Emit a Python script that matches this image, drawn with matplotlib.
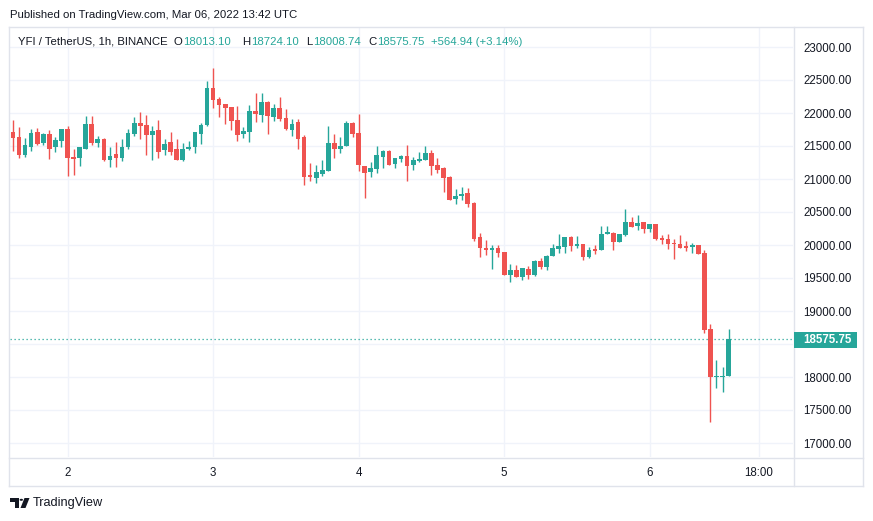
import matplotlib
matplotlib.use("Agg")
import matplotlib.pyplot as plt
from matplotlib.patches import Rectangle, Polygon, Circle
import numpy as np

# ---- data: 1h candles, hour offset relative to 2 Mar 2022 00:00 UTC ----
hours = list(range(-9, 110))
opens = [21709, 21632, 21360, 21483, 21709, 21539, 21678, 21478, 21575, 21755,
         21324, 21313, 21462, 21832, 21539, 21601, 21283, 21385, 21324, 21478,
         21678, 21848, 21817, 21663, 21740, 21432, 21555, 21447, 21293, 21447,
         21478, 21678, 21817, 22372, 22218, 22140, 22094, 21894, 21678, 21709,
         22033, 21971, 22171, 21940, 22079, 21925, 21740, 21863, 21632, 21062,
         21016, 21077, 21123, 21539, 21462, 21493, 21848, 21694, 21200, 21108,
         21153, 21336, 21422, 21230, 21306, 21346, 21214, 21275, 21290, 21392,
         21209, 21164, 21027, 20692, 20738, 20783, 20631, 20119, 19962, 19922,
         19962, 19901, 19541, 19617, 19510, 19641, 19540, 19762, 19661, 19828,
         19944, 19974, 20126, 19990, 20020, 19823, 19929, 19929, 20161, 20187,
         20050, 20156, 20353, 20283, 20353, 20247, 20323, 20111, 20096, 20035,
         20015, 19970, 19975, 20000, 19879, 18730, 17994, 17994, 18013.10]
highs = [21894, 21786, 21617, 21755, 21771, 21694, 21740, 21632, 21755, 21801,
         21447, 21478, 21956, 21956, 21647, 21617, 21478, 21555, 21601, 21755,
         21940, 22017, 21971, 21801, 21894, 21601, 21709, 21601, 21539, 21570,
         21709, 21848, 22480, 22680, 22248, 22140, 22094, 22110, 21786, 22125,
         22310, 22310, 22187, 22140, 22248, 22063, 21909, 21909, 21663, 21247,
         21216, 21293, 21801, 21678, 21632, 21878, 21863, 21986, 21200, 21255,
         21498, 21437, 21437, 21321, 21361, 21513, 21331, 21407, 21498, 21437,
         21316, 21179, 21042, 20844, 20875, 20860, 20646, 20180, 20074, 19998,
         19998, 19901, 19708, 19693, 19656, 19687, 19778, 19808, 19853, 20020,
         20171, 20126, 20141, 20141, 20020, 19974, 20005, 20293, 20293, 20202,
         20171, 20550, 20429, 20459, 20353, 20323, 20323, 20156, 20171, 20096,
         20151, 20060, 20030, 20000, 19924, 18806, 18261, 18155, 18724.10]
lows = [21421, 21313, 21329, 21421, 21509, 21509, 21308, 21406, 21483, 21051,
        21067, 21190, 21447, 21509, 21478, 21277, 21175, 21175, 21267, 21447,
        21647, 21601, 21370, 21293, 21324, 21370, 21370, 21293, 21277, 21432,
        21401, 21524, 21801, 22079, 21940, 21832, 21740, 21570, 21617, 21555,
        21863, 21863, 21678, 21878, 21878, 21740, 21647, 21447, 20908, 20969,
        20938, 21046, 21123, 21324, 21401, 21493, 21632, 21123, 20707, 21032,
        21093, 21164, 21214, 21164, 21255, 20971, 21138, 21255, 21290, 21062,
        21093, 20804, 20682, 20621, 20677, 20570, 20058, 19815, 19845, 19633,
        19815, 19541, 19435, 19511, 19464, 19480, 19525, 19631, 19616, 19828,
        19873, 19873, 19914, 19959, 19778, 19808, 19868, 19929, 20161, 19929,
        20050, 20141, 20267, 20232, 20187, 20202, 20081, 20020, 19944, 19793,
        19955, 19909, 19879, 19869, 18670, 17314, 17828, 17777, 18008.74]
closes = [21622, 21360, 21509, 21694, 21529, 21678, 21452, 21586, 21755, 21313,
          21308, 21478, 21832, 21539, 21601, 21293, 21355, 21313, 21478, 21694,
          21848, 21801, 21663, 21724, 21416, 21524, 21416, 21293, 21462, 21478,
          21709, 21817, 22372, 22202, 22125, 22079, 21878, 21663, 21724, 22033,
          21986, 22171, 21956, 22079, 21909, 21755, 21832, 21601, 21031, 21031,
          21108, 21139, 21539, 21462, 21493, 21848, 21678, 21216, 21093, 21164,
          21361, 21422, 21214, 21311, 21346, 21199, 21285, 21301, 21392, 21199,
          21133, 21017, 20682, 20738, 20773, 20621, 20089, 19952, 19922, 19952,
          19876, 19541, 19617, 19511, 19656, 19540, 19762, 19661, 19838, 19959,
          19990, 20126, 19990, 20020, 19823, 19929, 19914, 20171, 20202, 20050,
          20171, 20353, 20267, 20338, 20247, 20323, 20096, 20081, 20020, 20015,
          19955, 19960, 20000, 19869, 18715, 17994, 18009, 18013, 18575.75]

price_ticks = list(range(17000, 23001, 500))
time_ticks = [0, 24, 48, 72, 96, 114]
time_labels = ["2", "3", "4", "5", "6", "18:00"]
header_sym = "YFI / TetherUS, 1h, BINANCE"
change_text = "+564.94 (+3.14%)"
published = "Published on TradingView.com, Mar 06, 2022 13:42 UTC"

# ---- style ----
W, H = 873, 521
UP, DOWN = "#26a69a", "#ef5350"
TXT = "#131722"
GRID = "#f0f3fa"
BORDER = "#e0e3eb"
FONT = ["Liberation Sans", "DejaVu Sans"]
plt.rcParams["font.family"] = FONT

fig = plt.figure(figsize=(W / 100, H / 100), dpi=100)
fig.patch.set_facecolor("white")

def fx(x):
    return x / W

def fy(y):
    return 1 - y / H

# plot area in pixels
L, R, T, B = 10, 793, 28, 457
ax = fig.add_axes([fx(L), fy(B), (R - L) / W, (B - T) / H])
ax.set_facecolor("white")

px_per_h = 6.065
x0 = 67.5
ax.set_xlim((L - x0) / px_per_h, (R - x0) / px_per_h)
ppu = 0.066
ax.set_ylim(17000 - (B - 443) / ppu, 23000 + (47 - T) / ppu)

o = np.array(opens); c = np.array(closes); hi = np.array(highs); lo = np.array(lows)
hrs = np.array(hours)
col = np.where(c >= o, UP, DOWN)
ax.vlines(hrs, lo, hi, colors=col, linewidth=1.0, zorder=3)
bottom = np.minimum(o, c)
height = np.maximum(np.abs(c - o), 1.2 / ppu)
ax.bar(hrs, height, bottom=bottom, width=0.77, color=col, linewidth=0, zorder=4)

# grid
for p in price_ticks:
    ax.axhline(p, color=GRID, linewidth=1.0, zorder=1)
for t in time_ticks:
    ax.axvline(t, color=GRID, linewidth=1.0, zorder=1)

# last price dotted line
ax.axhline(closes[-1], color=UP, linestyle=(0, (1, 2.2)), linewidth=0.9, zorder=2)

for s in ax.spines.values():
    s.set_visible(False)

# price scale: the tick hidden under the last-price badge is left blank
ax.yaxis.tick_right()
ax.set_yticks(price_ticks)
ax.set_yticklabels(["" if abs(p - closes[-1]) < 150 else f"{p:.2f}" for p in price_ticks])
ax.tick_params(axis="y", length=0, pad=7.5, labelsize=8.3, labelcolor=TXT)
ax.set_xticks(time_ticks)
ax.set_xticklabels(time_labels)
ax.tick_params(axis="x", length=0, pad=7.5, labelsize=8.3, labelcolor=TXT)

# frame lines
def hline(y, x1, x2):
    fig.add_artist(plt.Line2D([fx(x1), fx(x2)], [fy(y), fy(y)], color=BORDER, linewidth=1.0, zorder=6))

def vline(x, y1, y2):
    fig.add_artist(plt.Line2D([fx(x), fx(x)], [fy(y1), fy(y2)], color=BORDER, linewidth=1.0, zorder=6))

hline(27, 9, 863)
hline(486, 9, 863)
hline(457.5, 9, 863)
vline(9, 27, 486)
vline(863, 27, 486)
vline(793.5, 27, 486)

# last-price label
fig.add_artist(Rectangle((fx(794), fy(347.5)), (857 - 794) / W, 15.5 / H,
                         transform=fig.transFigure, facecolor=UP, edgecolor="none", zorder=7))
fig.text(fx(803), fy(339.8), f"{closes[-1]:.2f}", color="white", fontsize=8.3,
         fontweight="bold", va="center", ha="left", zorder=8)

# published text
fig.text(fx(10), fy(15), published, color=TXT, fontsize=8.2, va="center", ha="left")

# header legend
renderer = fig.canvas.get_renderer()
hy = 42
fig.text(fx(18), fy(hy), header_sym, color=TXT, fontsize=8.2, va="center", ha="left")

def pair(x, letter, value):
    t = fig.text(fx(x), fy(hy), letter, color=TXT, fontsize=8.2, va="center", ha="left")
    w = t.get_window_extent(renderer=renderer).width
    fig.text(fx(x + w + 0.5), fy(hy), value, color=UP, fontsize=8.2, va="center", ha="left")

pair(174, "O", f"{opens[-1]:.2f}")
pair(242, "H", f"{highs[-1]:.2f}")
pair(306, "L", f"{lows[-1]:.2f}")
pair(368, "C", f"{closes[-1]:.2f}")
fig.text(fx(431), fy(hy), change_text, color=UP, fontsize=8.2, va="center", ha="left")

# TradingView logo
LOGO = "#131722"
fig.add_artist(Polygon([[fx(10), fy(498)], [fx(18.5), fy(498)], [fx(18.5), fy(508)],
                        [fx(14.5), fy(508)], [fx(14.5), fy(501.5)], [fx(10), fy(501.5)]],
                       closed=True, transform=fig.transFigure, facecolor=LOGO, edgecolor="none"))
fig.add_artist(Circle((fx(21.3), fy(499.8)), 1.7 / W, transform=fig.transFigure,
                      facecolor=LOGO, edgecolor="none"))
fig.add_artist(Polygon([[fx(24.5), fy(498)], [fx(29.5), fy(498)], [fx(25.5), fy(508)],
                        [fx(20.5), fy(508)]],
                       closed=True, transform=fig.transFigure, facecolor=LOGO, edgecolor="none"))
fig.text(fx(33), fy(503), "TradingView", color=TXT, fontsize=9.2, va="center", ha="left")

fig.savefig("out.png", dpi=100, facecolor="white")
